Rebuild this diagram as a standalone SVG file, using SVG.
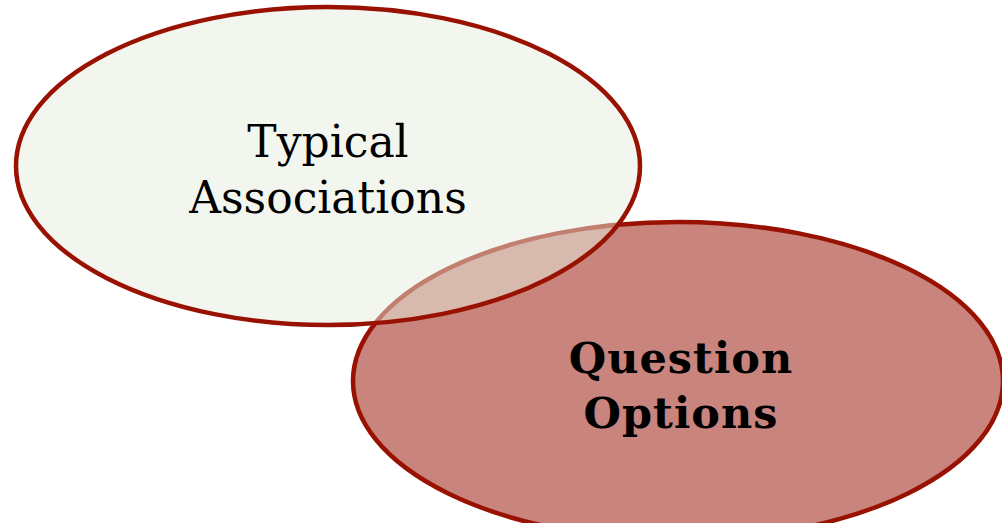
<svg xmlns="http://www.w3.org/2000/svg" width="1002" height="523" viewBox="0 0 1002 523">
<style>
.el{stroke:#991100;stroke-width:4.5}
.t{font-family:"DejaVu Serif","Liberation Serif",serif;fill:#000;text-anchor:middle}
</style>
<rect width="1002" height="523" fill="#ffffff"/>
<g id="question-options">
<ellipse class="el" cx="678" cy="381" rx="325" ry="159" fill="#c9847d"/>
<text class="t" x="681" y="373" font-size="43" font-weight="bold" letter-spacing="1">Question</text>
<text class="t" x="681" y="428" font-size="43" font-weight="bold" letter-spacing="1">Options</text>
</g>
<g id="typical-associations">
<ellipse class="el" cx="328" cy="166" rx="312" ry="159" fill="#e8eddd" fill-opacity="0.5"/>
<text class="t" x="328" y="157" font-size="44">Typical</text>
<text class="t" x="328" y="213" font-size="44">Associations</text>
</g>
<g id="connectors"/>
</svg>
